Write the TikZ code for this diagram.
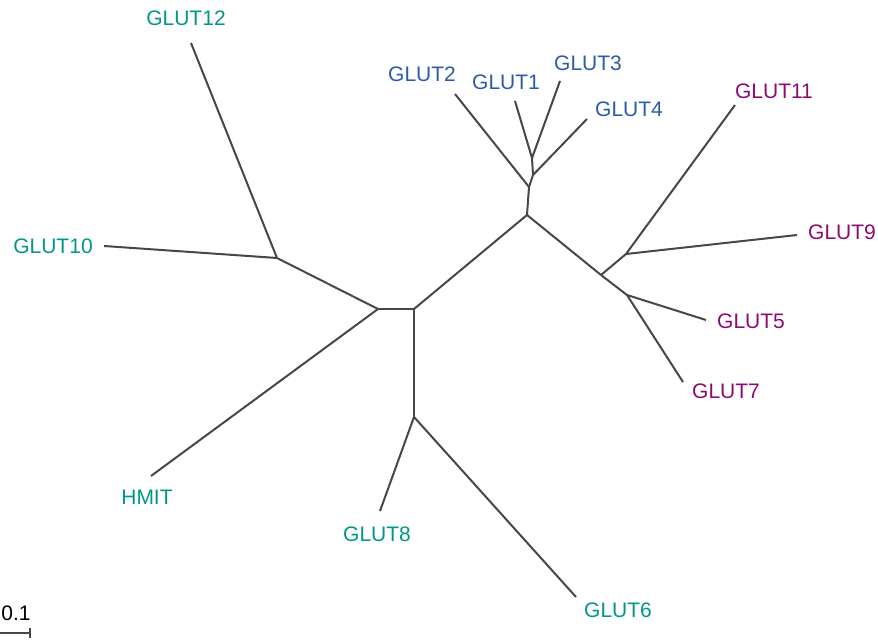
\documentclass[tikz,border=0pt]{standalone}
\usepackage{fontspec}
\setmainfont{Liberation Sans}
\definecolor{gluteal}{HTML}{00968A}
\definecolor{glublue}{HTML}{2B5BA8}
\definecolor{glupurple}{HTML}{8C0A72}
\tikzset{
  branch/.style={draw=black!72, line width=1pt},
  lbl/.style={inner sep=0pt, font=\fontsize{10.5}{12}\selectfont},
}
\begin{document}
\begin{tikzpicture}[x=0.5pt,y=-0.5pt]
  \useasboundingbox (0,0) rectangle (878,641);
  % inner junctions
  \coordinate (a) at (378,309);
  \coordinate (b) at (414,309);
  \coordinate (c) at (414,417);
  \coordinate (d) at (527,215);
  \coordinate (e) at (529,187);
  \coordinate (f) at (533,175);
  \coordinate (g) at (532,158);
  \coordinate (h) at (601,275);
  \coordinate (i) at (626,254);
  \coordinate (j) at (627,295);
  \coordinate (k) at (277,258);
  % leaf ends
  \coordinate (e12) at (191,43);
  \coordinate (e10) at (104,246);
  \coordinate (ehm) at (151,476);
  \coordinate (e8) at (380,511);
  \coordinate (e6) at (576,597);
  \coordinate (e2) at (455,94);
  \coordinate (e1) at (515,101);
  \coordinate (e3) at (560,81);
  \coordinate (e4) at (587,119);
  \coordinate (e11) at (735,105);
  \coordinate (e9) at (797,235);
  \coordinate (e5) at (706,320);
  \coordinate (e7) at (683,382);
  % labels
  \node[lbl, text=gluteal] (glut12) at (186,18) {GLUT12};
  \node[lbl, text=gluteal] (glut10) at (53,246) {GLUT10};
  \node[lbl, text=gluteal] (hmit) at (147,497) {HMIT};
  \node[lbl, text=gluteal] (glut8) at (377,534) {GLUT8};
  \node[lbl, text=gluteal] (glut6) at (618,610) {GLUT6};
  \node[lbl, text=glublue] (glut2) at (422,74) {GLUT2};
  \node[lbl, text=glublue] (glut1) at (506,82) {GLUT1};
  \node[lbl, text=glublue] (glut3) at (588,63) {GLUT3};
  \node[lbl, text=glublue] (glut4) at (629,109) {GLUT4};
  \node[lbl, text=glupurple] (glut11) at (774,91) {GLUT11};
  \node[lbl, text=glupurple] (glut9) at (842,232) {GLUT9};
  \node[lbl, text=glupurple] (glut5) at (751,321) {GLUT5};
  \node[lbl, text=glupurple] (glut7) at (726,391) {GLUT7};
  % tree
  \draw[branch] (a) -- (b);
  \draw[branch] (b) -- (c);
  \draw[branch] (b) -- (d);
  \draw[branch] (d) -- (e);
  \draw[branch] (e) -- (f);
  \draw[branch] (f) -- (g);
  \draw[branch] (d) -- (h);
  \draw[branch] (h) -- (i);
  \draw[branch] (h) -- (j);
  \draw[branch] (a) -- (k);
  \draw[branch] (k) -- (e12);
  \draw[branch] (k) -- (e10);
  \draw[branch] (a) -- (ehm);
  \draw[branch] (c) -- (e8);
  \draw[branch] (c) -- (e6);
  \draw[branch] (e) -- (e2);
  \draw[branch] (g) -- (e1);
  \draw[branch] (g) -- (e3);
  \draw[branch] (f) -- (e4);
  \draw[branch] (i) -- (e11);
  \draw[branch] (i) -- (e9);
  \draw[branch] (j) -- (e5);
  \draw[branch] (j) -- (e7);
  % scale bar
  \coordinate (sb0) at (0,633);
  \coordinate (sb1) at (30,633);
  \coordinate (sbt) at (30,628);
  \coordinate (sbb) at (30,638);
  \node[lbl] (scale) at (16,613) {0.1};
  \draw[branch] (sb0) -- (sb1);
  \draw[branch] (sbt) -- (sbb);
\end{tikzpicture}
\end{document}
